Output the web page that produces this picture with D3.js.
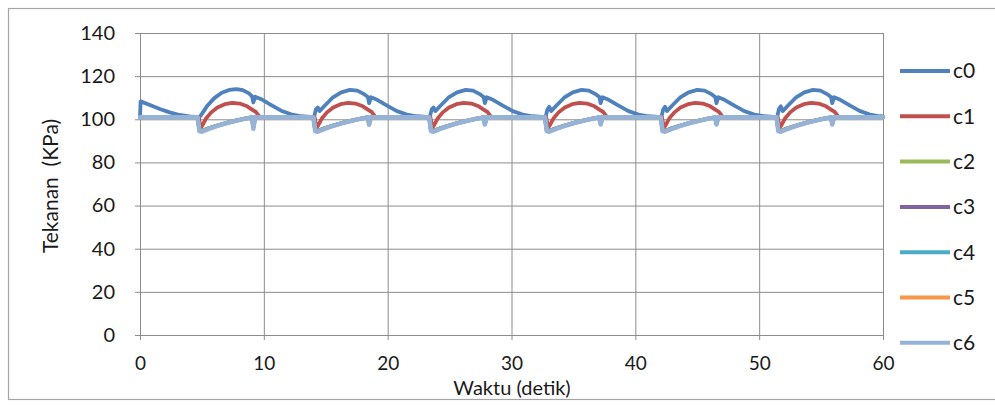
<!DOCTYPE html>
<html>
<head>
<meta charset="utf-8">
<script src="https://cdn.jsdelivr.net/npm/d3@7"></script>
<style>
  html, body { margin: 0; padding: 0; background: #fff; }
  svg text { font-family: Lato, "Open Sans", sans-serif; fill: #1a1a1a; }
</style>
</head>
<body>
<svg id="chart" width="995" height="406"></svg>
<script>
// Pressure readings (KPa) against time (s) for sensors c0..c6
const seriesNames = ["c0", "c1", "c2", "c3", "c4", "c5", "c6"];
const seriesColors = ["#4f81bd", "#c0504d", "#9bbb59", "#8064a2", "#4bacc6", "#f79646", "#95b3d7"];
const xTicks = [0, 10, 20, 30, 40, 50, 60];
const yTicks = [0, 20, 40, 60, 80, 100, 120, 140];

// c0 samples
const timeC0 = [
  0, 0.05, 0.8, 1.6, 2.4, 3.2, 4.0, 4.7,
  4.8, 5.0, 5.4, 6.0, 6.6, 7.2, 7.8, 8.3, 8.8, 9.05, 9.15, 9.3, 9.8, 10.6, 11.4, 12.2, 13.0, 14.05,
  14.2, 14.35, 14.5, 14.95, 15.55, 16.25, 16.95, 17.55, 18.05, 18.4, 18.5, 18.65, 19.15, 19.95, 20.75, 21.55, 22.35, 23.4,
  23.55, 23.7, 23.85, 24.3, 24.9, 25.6, 26.3, 26.9, 27.4, 27.75, 27.85, 28.0, 28.5, 29.3, 30.1, 30.9, 31.7, 32.75,
  32.9, 33.05, 33.2, 33.65, 34.25, 34.95, 35.65, 36.25, 36.75, 37.1, 37.2, 37.35, 37.85, 38.65, 39.45, 40.25, 41.05, 42.1,
  42.25, 42.4, 42.55, 43.0, 43.6, 44.3, 45.0, 45.6, 46.1, 46.45, 46.55, 46.7, 47.2, 48.0, 48.8, 49.6, 50.4, 51.45,
  51.6, 51.75, 51.9, 52.35, 52.95, 53.65, 54.35, 54.95, 55.45, 55.8, 55.9, 56.05, 56.55, 57.35, 58.15, 58.95, 59.75, 60
];
const c0 = [
  101, 108.3, 106.6, 104.8, 103.2, 102.0, 101.3, 101.0,
  101.0, 102.5, 106.0, 109.8, 112.3, 113.6, 114.0, 113.5, 112.0, 110.6, 107.8, 110.5, 109.3, 106.6, 104.0, 102.3, 101.4, 101.0,
  104.5, 105.5, 103.8, 106.5, 110.0, 112.5, 113.6, 113.3, 111.8, 110.3, 107.5, 110.2, 109.0, 106.3, 103.8, 102.2, 101.4, 101.0,
  104.5, 105.5, 103.8, 106.5, 110.0, 112.5, 113.6, 113.3, 111.8, 110.3, 107.5, 110.2, 109.0, 106.3, 103.8, 102.2, 101.4, 101.0,
  104.5, 105.8, 103.8, 106.5, 110.0, 112.5, 113.6, 113.3, 111.8, 110.3, 107.5, 110.2, 109.0, 106.3, 103.8, 102.2, 101.4, 101.0,
  104.5, 105.8, 103.8, 106.5, 110.0, 112.5, 113.6, 113.3, 111.8, 110.3, 107.5, 110.2, 109.0, 106.3, 103.8, 102.2, 101.4, 101.0,
  104.8, 106.0, 103.8, 106.5, 110.0, 112.5, 113.6, 113.3, 111.8, 110.3, 107.5, 110.2, 109.0, 106.3, 103.8, 102.2, 101.4, 101.3
];

// c1 samples
const timeC1 = [
  0,
  4.75, 4.9, 5.05, 5.35, 5.75, 6.25, 6.85, 7.45, 8.05, 8.65, 9.05, 9.35, 9.65,
  14.1, 14.25, 14.4, 14.7, 15.1, 15.6, 16.2, 16.8, 17.4, 18.0, 18.4, 18.7, 19.0,
  23.45, 23.6, 23.75, 24.05, 24.45, 24.95, 25.55, 26.15, 26.75, 27.35, 27.75, 28.05, 28.35,
  32.8, 32.95, 33.1, 33.4, 33.8, 34.3, 34.9, 35.5, 36.1, 36.7, 37.1, 37.4, 37.7,
  42.15, 42.3, 42.45, 42.75, 43.15, 43.65, 44.25, 44.85, 45.45, 46.05, 46.45, 46.75, 47.05,
  51.5, 51.65, 51.8, 52.1, 52.5, 53.0, 53.6, 54.2, 54.8, 55.4, 55.8, 56.1, 56.4,
  60
];
const c1 = [
  101,
  101, 96.0, 97.3, 100.5, 103.2, 105.5, 107.0, 107.6, 107.3, 106.0, 104.5, 103.4, 101.2,
  101, 96.0, 97.3, 100.5, 103.2, 105.5, 107.0, 107.6, 107.3, 106.0, 104.5, 103.4, 101.2,
  101, 96.0, 97.3, 100.5, 103.2, 105.5, 107.0, 107.6, 107.3, 106.0, 104.5, 103.4, 101.2,
  101, 96.0, 97.3, 100.5, 103.2, 105.5, 107.0, 107.6, 107.3, 106.0, 104.5, 103.4, 101.2,
  101, 96.0, 97.3, 100.5, 103.2, 105.5, 107.0, 107.6, 107.3, 106.0, 104.5, 103.4, 101.2,
  101, 96.0, 97.3, 100.5, 103.2, 105.5, 107.0, 107.6, 107.3, 106.0, 104.5, 103.4, 101.2,
  101
];

// c2..c6 share one set of sample times
const timeC26 = [
  0,
  4.65, 4.8, 5.0, 5.5, 6.2, 7.0, 7.8, 8.6, 9.05, 9.15, 9.3,
  14.0, 14.15, 14.35, 14.85, 15.55, 16.35, 17.15, 17.95, 18.4, 18.5, 18.65,
  23.35, 23.5, 23.7, 24.2, 24.9, 25.7, 26.5, 27.3, 27.75, 27.85, 28.0,
  32.7, 32.85, 33.05, 33.55, 34.25, 35.05, 35.85, 36.65, 37.1, 37.2, 37.35,
  42.05, 42.2, 42.4, 42.9, 43.6, 44.4, 45.2, 46.0, 46.45, 46.55, 46.7,
  51.4, 51.55, 51.75, 52.25, 52.95, 53.75, 54.55, 55.35, 55.8, 55.9, 56.05,
  60
];
const c2 = [
  101,
  101, 95.0, 94.7, 95.8, 97.1, 98.4, 99.5, 100.5, 100.9, 96.4, 101,
  101, 95.0, 94.7, 95.8, 97.1, 98.4, 99.5, 100.5, 100.9, 98.0, 101,
  101, 95.0, 94.7, 95.8, 97.1, 98.4, 99.5, 100.5, 100.9, 98.0, 101,
  101, 95.0, 94.7, 95.8, 97.1, 98.4, 99.5, 100.5, 100.9, 98.0, 101,
  101, 95.0, 94.7, 95.8, 97.1, 98.4, 99.5, 100.5, 100.9, 98.0, 101,
  101, 95.0, 94.7, 95.8, 97.1, 98.4, 99.5, 100.5, 100.9, 98.0, 101,
  101
];
const c3 = [
  101,
  101, 94.9, 94.6, 95.7, 97.0, 98.3, 99.5, 100.4, 100.9, 96.2, 101,
  101, 94.9, 94.6, 95.7, 97.0, 98.3, 99.5, 100.4, 100.9, 97.9, 101,
  101, 94.9, 94.6, 95.7, 97.0, 98.3, 99.5, 100.4, 100.9, 97.9, 101,
  101, 94.9, 94.6, 95.7, 97.0, 98.3, 99.5, 100.4, 100.9, 97.9, 101,
  101, 94.9, 94.6, 95.7, 97.0, 98.3, 99.5, 100.4, 100.9, 97.9, 101,
  101, 94.9, 94.6, 95.7, 97.0, 98.3, 99.5, 100.4, 100.9, 97.9, 101,
  101
];
const c4 = [
  101,
  101, 94.8, 94.5, 95.6, 97.0, 98.3, 99.4, 100.4, 100.9, 96.1, 101,
  101, 94.8, 94.5, 95.6, 97.0, 98.3, 99.4, 100.4, 100.9, 97.8, 101,
  101, 94.8, 94.5, 95.6, 97.0, 98.3, 99.4, 100.4, 100.9, 97.8, 101,
  101, 94.8, 94.5, 95.6, 97.0, 98.3, 99.4, 100.4, 100.9, 97.8, 101,
  101, 94.8, 94.5, 95.6, 97.0, 98.3, 99.4, 100.4, 100.9, 97.8, 101,
  101, 94.8, 94.5, 95.6, 97.0, 98.3, 99.4, 100.4, 100.9, 97.8, 101,
  101
];
const c5 = [
  101,
  101, 94.7, 94.4, 95.5, 96.9, 98.2, 99.4, 100.4, 100.9, 96.0, 101,
  101, 94.7, 94.4, 95.5, 96.9, 98.2, 99.4, 100.4, 100.9, 97.7, 101,
  101, 94.7, 94.4, 95.5, 96.9, 98.2, 99.4, 100.4, 100.9, 97.7, 101,
  101, 94.7, 94.4, 95.5, 96.9, 98.2, 99.4, 100.4, 100.9, 97.7, 101,
  101, 94.7, 94.4, 95.5, 96.9, 98.2, 99.4, 100.4, 100.9, 97.7, 101,
  101, 94.7, 94.4, 95.5, 96.9, 98.2, 99.4, 100.4, 100.9, 97.7, 101,
  101
];
const c6 = [
  101,
  101, 94.5, 94.2, 95.4, 96.8, 98.2, 99.4, 100.4, 100.9, 95.6, 101,
  101, 94.5, 94.2, 95.4, 96.8, 98.2, 99.4, 100.4, 100.9, 97.5, 101,
  101, 94.5, 94.2, 95.4, 96.8, 98.2, 99.4, 100.4, 100.9, 97.6, 101,
  101, 94.5, 94.2, 95.4, 96.8, 98.2, 99.4, 100.4, 100.9, 97.6, 101,
  101, 94.5, 94.2, 95.4, 96.8, 98.2, 99.4, 100.4, 100.9, 97.6, 101,
  101, 94.5, 94.2, 95.4, 96.8, 98.2, 99.4, 100.4, 100.9, 97.6, 101,
  101
];

const seriesTimes = [timeC0, timeC1, timeC26, timeC26, timeC26, timeC26, timeC26];
const seriesValues = [c0, c1, c2, c3, c4, c5, c6];

const svg = d3.select("#chart");
const W = 995;
const plot = { left: 140, right: 883, top: 33, bottom: 335 };

// chart frame
svg.append("rect")
  .attr("x", 8.5).attr("y", 8.5)
  .attr("width", W).attr("height", 391)
  .attr("fill", "#fff").attr("stroke", "#a6a6a6").attr("stroke-width", 1.2);

const x = d3.scaleLinear().domain([0, 60]).range([plot.left, plot.right]);
const y = d3.scaleLinear().domain([0, 140]).range([plot.bottom, plot.top]);

// gridlines
const grid = svg.append("g").attr("class", "grid");
grid.append("g")
  .attr("transform", `translate(${plot.left},0)`)
  .call(d3.axisLeft(y).tickValues(yTicks).tickSize(-(plot.right - plot.left)).tickFormat(""))
  .call(g => g.select(".domain").remove());
grid.append("g")
  .attr("transform", `translate(0,${plot.bottom})`)
  .call(d3.axisBottom(x).tickValues(xTicks.slice(1)).tickSize(-(plot.bottom - plot.top)).tickFormat(""))
  .call(g => g.select(".domain").remove());
grid.selectAll("line").attr("stroke", "#8c8c8c").attr("stroke-width", 1);

// axes
const yAxis = svg.append("g")
  .attr("transform", `translate(${plot.left},0)`)
  .call(d3.axisLeft(y).tickValues(yTicks).tickSize(5).tickPadding(20));
const xAxis = svg.append("g")
  .attr("transform", `translate(0,${plot.bottom})`)
  .call(d3.axisBottom(x).tickValues(xTicks).tickSize(5));
[yAxis, xAxis].forEach(a => {
  a.selectAll("path.domain").attr("stroke", "#8c8c8c").attr("stroke-width", 1);
  a.selectAll(".tick line").attr("stroke", "#8c8c8c").attr("stroke-width", 1);
  a.selectAll("text").style("font-size", "20px").style("font-family", "Lato, sans-serif").attr("fill", "#1a1a1a");
});
xAxis.selectAll("text").style("font-size", "19px").attr("y", 28).attr("dy", "0.35em");

// series lines
const line = d3.line().x(d => x(d[0])).y(d => y(d[1]));
const widths = [3.8, 3.8, 3.8, 3.8, 3.8, 3.8, 4.5];
seriesNames.forEach((name, i) => {
  const pts = seriesTimes[i].map((t, j) => [t, seriesValues[i][j]]);
  svg.append("path")
    .datum(pts)
    .attr("fill", "none")
    .attr("stroke", seriesColors[i])
    .attr("stroke-width", widths[i])
    .attr("stroke-linejoin", "round")
    .attr("stroke-linecap", "round")
    .attr("d", line);
});

// axis titles
svg.append("text")
  .attr("transform", "translate(51,186) rotate(-90)")
  .attr("text-anchor", "middle").attr("dy", "0.35em")
  .style("font-size", "21px")
  .text("Tekanan\u00a0 (KPa)");
svg.append("text")
  .attr("x", 512).attr("y", 388)
  .attr("text-anchor", "middle").attr("dy", "0.35em")
  .style("font-size", "20px")
  .text("Waktu (detik)");

// legend
const legend = svg.append("g").attr("transform", "translate(900,71)");
seriesNames.forEach((name, i) => {
  const row = legend.append("g").attr("transform", `translate(0,${i * 45.3})`);
  row.append("line")
    .attr("x1", 0).attr("x2", 50).attr("y1", 0).attr("y2", 0)
    .attr("stroke", seriesColors[i]).attr("stroke-width", 4);
  row.append("text")
    .attr("x", 53).attr("dy", "0.35em")
    .style("font-size", "21px")
    .text(name);
});
</script>
</body>
</html>
